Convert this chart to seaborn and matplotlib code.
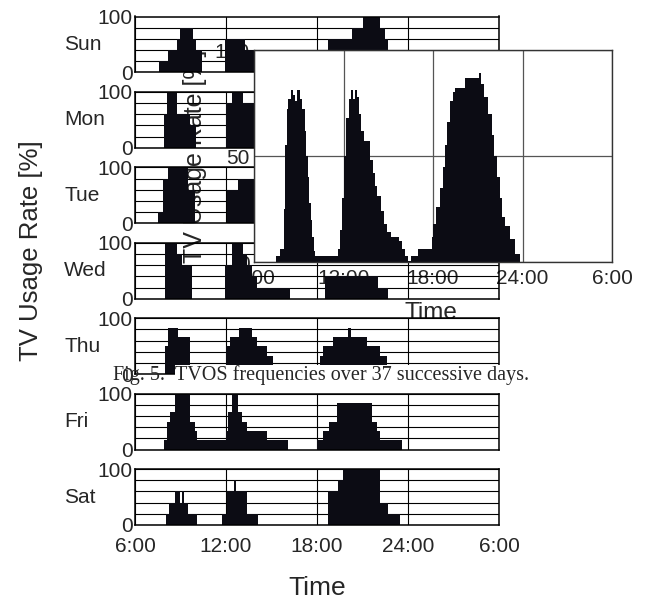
import numpy as np
import pandas as pd
import matplotlib.pyplot as plt
import matplotlib.text as mtext
import seaborn as sns

days = ['Sun', 'Mon', 'Tue', 'Wed', 'Thu', 'Fri', 'Sat']
time_ticks = [6, 12, 18, 24, 30]
time_labels = ['6:00', '12:00', '18:00', '24:00', '6:00']

# step edges (hours from 6:00) and usage rate [%] per step, one pair per weekday
sun_edges = [7.58, 8.18, 8.77, 8.97, 9.82, 10.02, 10.4, 11.93, 13.25, 14.5, 16.5,
             18.06, 18.33, 18.72, 20.3, 21.03, 22.15, 22.48, 22.68, 22.94, 23.34]
sun_levels = [20, 40, 60, 80, 60, 40, 0, 60, 40, 20, 0,
              20, 40, 60, 80, 100, 80, 60, 40, 20]

mon_edges = [7.91, 8.11, 8.77, 9.63, 10.0, 12.0, 12.39, 13.12, 14.0, 14.6, 16.0,
             19.0, 19.5, 20.0, 22.0, 22.5, 23.5]
mon_levels = [60, 100, 60, 40, 0, 80, 100, 80, 40, 20, 0, 40, 80, 100, 60, 20]

tue_edges = [7.52, 7.85, 8.18, 9.49, 9.96, 12.06, 12.79, 14.0, 14.5, 15.5,
             18.5, 19.5, 22.5, 23.5]
tue_levels = [20, 80, 100, 60, 0, 60, 80, 40, 20, 0, 40, 80, 20]

wed_edges = [7.95, 8.77, 9.1, 9.76, 11.93, 12.39, 13.12, 13.38, 13.71, 14.04, 16.22,
             18.53, 22.02, 22.68]
wed_levels = [100, 80, 60, 0, 60, 100, 80, 60, 40, 20, 0, 40, 20]

thu_edges = [7.98, 8.18, 8.83, 9.63, 12.0, 12.26, 12.86, 13.71, 14.04, 14.7, 15.1, 16.2,
             18.2, 18.39, 19.05, 20.04, 20.24, 21.3, 22.15, 22.61, 22.81]
thu_levels = [50, 83.3, 66.7, 0, 50, 66.7, 83.3, 66.7, 50, 33.3, 16.7, 0,
              33.3, 50, 66.7, 83.3, 66.7, 50, 33.3, 16.7]

fri_edges = [7.91, 8.11, 8.31, 8.64, 9.63, 9.96, 10.09, 12.0, 12.13, 12.39, 12.79, 13.05,
             13.38, 14.7, 16.09, 18.0, 18.39, 18.79, 19.32, 21.62, 21.95, 22.15, 23.6]
fri_levels = [16.7, 50, 66.7, 100, 50, 33.3, 16.7, 33.3, 66.7, 100, 66.7, 50,
              33.3, 16.7, 0, 16.7, 33.3, 50, 83.3, 50, 33.3, 16.7]

sat_edges = [8.04, 8.24, 8.64, 8.97, 9.1, 9.23, 9.49, 10.09, 11.74, 12.06, 12.53, 12.66,
             13.38, 14.11, 18.72, 19.38, 19.71, 22.15, 22.68, 23.47]
sat_levels = [20, 40, 60, 40, 60, 40, 20, 0, 20, 60, 80, 60, 20, 0, 60, 80, 100, 40, 20]

# averaged curve shown in the inset
inset_edges = [6.0, 7.5, 7.75, 8.0, 8.1, 8.2, 8.3, 8.45, 8.6, 8.75, 8.9, 9.1, 9.25, 9.4,
               9.5, 9.6, 9.7, 9.8, 9.9, 10.0, 10.1, 11.6, 11.75, 11.9, 12.05, 12.2, 12.35,
               12.5, 12.65, 12.75, 12.9, 13.05, 13.2, 13.35, 13.8, 13.95, 14.1, 14.25, 14.5,
               14.7, 14.9, 15.2, 15.7, 15.95, 16.1, 16.3, 16.5, 17.0, 17.93, 18.0, 18.2,
               18.47, 18.65, 18.8, 18.95, 19.14, 19.34, 19.47, 20.14, 21.1, 21.25, 21.45,
               21.7, 21.95, 22.1, 22.3, 22.5, 22.65, 22.85, 23.15, 23.5, 23.85]
inset_rate = [0, 3, 6, 25, 55, 72, 77, 81, 79, 76,
              81, 77, 72, 62, 50, 40, 28, 20, 12, 5,
              3, 6, 15, 30, 50, 68, 77, 81, 77, 81,
              78, 70, 62, 57, 48, 42, 36, 31, 24, 18,
              14, 12, 10, 6, 3, 0.5, 3, 6, 12, 18,
              26, 35, 45, 55, 66, 76, 80, 82, 87, 89,
              84, 78, 70, 60, 50, 40, 30, 21, 17, 11,
              4]

day_data = [(sun_edges, sun_levels), (mon_edges, mon_levels), (tue_edges, tue_levels),
            (wed_edges, wed_levels), (thu_edges, thu_levels), (fri_edges, fri_levels),
            (sat_edges, sat_levels)]

BAR = '#0c0c14'
W, H = 647, 601

sns.set_style('white')
plt.rcParams['font.family'] = ['Liberation Sans', 'DejaVu Sans']


def draw_steps(ax, edges, levels):
    edges = [float(e) for e in edges]
    mids = [(a + b) / 2 for a, b in zip(edges[:-1], edges[1:])]
    df = pd.DataFrame({'hour': mids, 'rate': levels})
    sns.histplot(data=df, x='hour', weights='rate', bins=edges, ax=ax, color=BAR,
                 alpha=1, element='bars', fill=True, linewidth=0, edgecolor=BAR)
    ax.set_xlabel('')
    ax.set_ylabel('')


def px_rect(x0, y0, x1, y1):
    return [x0 / W, 1 - y1 / H, (x1 - x0) / W, (y1 - y0) / H]


fig = plt.figure(figsize=(W / 100, H / 100), dpi=100)

# tick labels of the inset live on their own axes, below the day panels
inset_rect = px_rect(254, 50, 612, 262)
ax_lab = fig.add_axes(inset_rect, zorder=0.2)
ax_lab.set_facecolor('none')
for s in ax_lab.spines.values():
    s.set_visible(False)
ax_lab.set_xlim(6, 30)
ax_lab.set_ylim(0, 100)
ax_lab.set_xticks(time_ticks)
ax_lab.set_xticklabels(time_labels)
ax_lab.set_yticks([0, 50, 100])
ax_lab.set_yticklabels(['0', '50', '100'])
ax_lab.tick_params(axis='x', length=0, pad=5, labelsize=15)
ax_lab.tick_params(axis='y', length=0, pad=3, labelsize=15)
fig.text(195 / W, 1 - 156 / H, 'TV Usage Rate [%]', rotation=90, ha='center',
         va='center', fontsize=18, zorder=0.2)
fig.text(431 / W, 1 - 313 / H, 'Time', ha='center', va='center', fontsize=17.5, zorder=0.2)

# weekday panels
gs = fig.add_gridspec(7, 1, left=135 / W, right=499 / W, top=1 - 16.5 / H,
                      bottom=1 - 525 / H, hspace=0.35)
for i, (name, (edges, levels)) in enumerate(zip(days, day_data)):
    ax = fig.add_subplot(gs[i])
    ax.set_zorder(1)
    ax.set_facecolor('none')
    draw_steps(ax, edges, levels)
    ax.set_xlim(6, 30)
    ax.set_ylim(0, 100)
    ax.set_yticks([0, 20, 40, 60, 80, 100])
    ax.set_yticklabels(['0', '', '', '', '', '100'])
    ax.set_xticks(time_ticks)
    if i == len(days) - 1:
        ax.set_xticklabels(time_labels)
    else:
        ax.set_xticklabels([])
    ax.tick_params(axis='both', length=0, labelsize=15)
    ax.tick_params(axis='y', pad=1.5)
    ax.tick_params(axis='x', pad=9)
    ax.set_axisbelow(True)
    ax.grid(True, color='black', linewidth=0.8)
    for s in ax.spines.values():
        s.set_visible(True)
        s.set_color('black')
        s.set_linewidth(1.1)
    ax.text(-0.195, 0.5, name, transform=ax.transAxes, ha='left', va='center',
            fontsize=15)

# inset with the averaged curve, on top of the panels
ax_in = fig.add_axes(inset_rect, zorder=2)
ax_in.set_facecolor('white')
draw_steps(ax_in, inset_edges, inset_rate)
ax_in.set_xlim(6, 30)
ax_in.set_ylim(0, 100)
ax_in.set_xticks(time_ticks)
ax_in.set_yticks([0, 50, 100])
ax_in.set_xticklabels([])
ax_in.set_yticklabels([])
ax_in.tick_params(length=0)
ax_in.set_axisbelow(True)
ax_in.grid(True, color='#555555', linewidth=0.9)
for s in ax_in.spines.values():
    s.set_visible(True)
    s.set_color('#333333')
    s.set_linewidth(1.0)

# figure labels and caption
fig.text(31 / W, 1 - 251 / H, 'TV Usage Rate [%]', rotation=90, ha='center',
         va='center', fontsize=18.5, zorder=3)
fig.text(317 / W, 1 - 588 / H, 'Time', ha='center', va='center', fontsize=19, zorder=3)

cap1 = fig.text(113 / W, 1 - 380 / H, 'Fig. 5.', ha='left', va='baseline',
                family='Liberation Serif', fontsize=14.5, zorder=3)
cap2 = mtext.Annotation('TVOS frequencies over 37 successive days.', xy=(1, 0),
                        xycoords=cap1, xytext=(7, 0), textcoords='offset points',
                        ha='left', va='bottom', family='Liberation Serif', fontsize=14.5,
                        bbox=dict(facecolor='white', edgecolor='none', pad=0))
cap2.set_zorder(3)
fig.add_artist(cap2)

fig.savefig('out.png', dpi=100)
